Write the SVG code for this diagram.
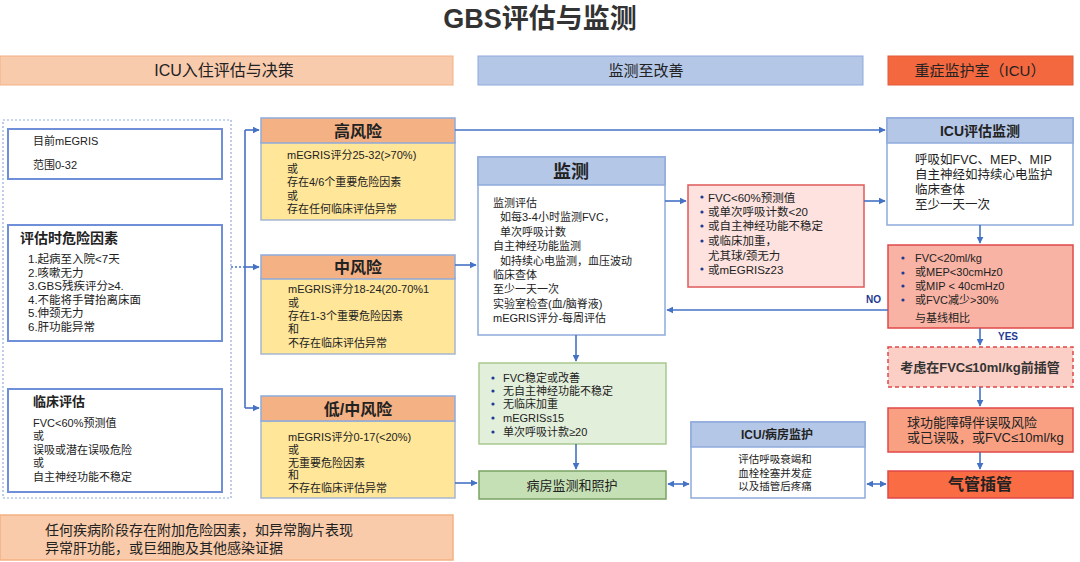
<svg xmlns="http://www.w3.org/2000/svg" width="1080" height="562" viewBox="0 0 1080 562">
<defs>
<marker id="ah" viewBox="0 0 10 10" refX="9" refY="5" markerWidth="7" markerHeight="7" orient="auto-start-reverse" markerUnits="userSpaceOnUse">
<path d="M0,0 L10,5 L0,10 z" fill="#4472c4"/>
</marker>
<style>
text{font-family:"Liberation Sans","Noto Sans CJK SC",sans-serif;fill:#222;}
.t{font-size:11px;}
.t12{font-size:12px;}
.t115{font-size:11.5px;}
.t13{font-size:13px;}
.b{font-weight:bold;}
.c{text-anchor:middle;}
.ln{stroke:#4472c4;stroke-width:1.6;fill:none;}
.wb{fill:#fff;stroke:#6f8fd8;stroke-width:2;}
.hd{fill:#f4b183;stroke:#8faadc;stroke-width:1.5;}
.yb{fill:#ffe699;stroke:#a6b6cf;stroke-width:1.5;}
.bh{fill:#b4c7e7;stroke:#8faadc;stroke-width:1.5;}
.bw{fill:#fff;stroke:#8faadc;stroke-width:1.5;}
.dot{fill:#1f3a93;}
</style>
</defs>
<rect x="0" y="0" width="1080" height="562" fill="#fff"/>
<text x="540" y="28" class="c b" style="font-size:27px;fill:#333">GBS评估与监测</text>

<g id="band-left"><rect x="0" y="56" width="453" height="29" fill="#f8cbad" stroke="#f4b183" stroke-width="1"/><text x="224" y="76" class="c" style="font-size:16px">ICU入住评估与决策</text></g>
<g id="band-mid"><rect x="478" y="56" width="385" height="29" fill="#b4c7e7" stroke="#8faadc" stroke-width="1"/><text x="646" y="76" class="c" style="font-size:15px">监测至改善</text></g>
<g id="band-right"><rect x="888" y="56" width="185" height="29" fill="#f4683f" stroke="#e05a3a" stroke-width="1"/><text x="980" y="76" class="c" style="font-size:15px">重症监护室（ICU）</text></g>

<g id="assess-area"><rect x="3" y="120" width="228" height="378" fill="none" stroke="#8faadc" stroke-width="1.2" stroke-dasharray="2,2"/></g>

<g id="megris"><rect x="8" y="129" width="214" height="50" class="wb"/>
<text x="33" y="145" class="t">目前mEGRIS</text><text x="33" y="169" class="t">范围0-32</text></g>

<g id="risk-factors"><rect x="8" y="225" width="214" height="116" class="wb"/>
<text x="20" y="243" class="b" style="font-size:14px">评估时危险因素</text>
<text x="28" y="263" class="t115">1.起病至入院&lt;7天</text>
<text x="28" y="277" class="t115">2.咳嗽无力</text>
<text x="28" y="290" class="t115">3.GBS残疾评分≥4.</text>
<text x="28" y="304" class="t115">4.不能将手臂抬离床面</text>
<text x="28" y="317" class="t115">5.伸颈无力</text>
<text x="28" y="331" class="t115">6.肝功能异常</text></g>

<g id="clinical"><rect x="8" y="389" width="214" height="103" class="wb"/>
<text x="33" y="406" class="b" style="font-size:13px">临床评估</text>
<text x="33" y="427" class="t">FVC&lt;60%预测值</text>
<text x="33" y="440" class="t">或</text>
<text x="33" y="454" class="t">误吸或潜在误吸危险</text>
<text x="33" y="467" class="t">或</text>
<text x="33" y="481" class="t">自主神经功能不稳定</text></g>

<g id="extra-risk"><rect x="0" y="515" width="453" height="45" fill="#f9cbaa" stroke="#f4b183" stroke-width="1.5"/>
<text x="45" y="535" style="font-size:14px">任何疾病阶段存在附加危险因素，如异常胸片表现</text>
<text x="45" y="553" style="font-size:14px">异常肝功能，或巨细胞及其他感染证据</text></g>

<g id="high-risk"><rect x="261" y="142" width="194" height="78" class="yb"/><rect x="261" y="118" width="194" height="25" class="hd"/>
<text x="358" y="137" class="c b" style="font-size:16px">高风险</text>
<text x="287" y="159" class="t">mEGRIS评分25-32(&gt;70%)</text>
<text x="287" y="173" class="t">或</text>
<text x="287" y="186" class="t">存在4/6个重要危险因素</text>
<text x="287" y="200" class="t">或</text>
<text x="287" y="213" class="t">存在任何临床评估异常</text></g>

<g id="mid-risk"><rect x="261" y="278" width="194" height="76" class="yb"/><rect x="261" y="255" width="194" height="24" class="hd"/>
<text x="358" y="273" class="c b" style="font-size:16px">中风险</text>
<text x="288" y="293" class="t">mEGRIS评分18-24(20-70%1</text>
<text x="288" y="307" class="t">或</text>
<text x="288" y="320" class="t">存在1-3个重要危险因素</text>
<text x="288" y="333" class="t">和</text>
<text x="288" y="347" class="t">不存在临床评估异常</text></g>

<g id="low-risk"><rect x="261" y="421" width="194" height="77" class="yb"/><rect x="261" y="396" width="194" height="25" class="hd"/>
<text x="358" y="415" class="c b" style="font-size:16px">低/中风险</text>
<text x="288" y="441" class="t">mEGRIS评分0-17(&lt;20%)</text>
<text x="288" y="454" class="t">或</text>
<text x="288" y="467" class="t">无重要危险因素</text>
<text x="288" y="479" class="t">和</text>
<text x="288" y="492" class="t">不存在临床评估异常</text></g>

<g id="monitor"><rect x="478" y="157" width="187" height="178" class="bw"/><rect x="478" y="157" width="187" height="28" class="bh"/>
<text x="571" y="178" class="c b" style="font-size:18px">监测</text>
<text x="493" y="207" class="t">监测评估</text>
<text x="500" y="221" class="t">如每3-4小时监测FVC，</text>
<text x="500" y="236" class="t">单次呼吸计数</text>
<text x="493" y="250" class="t">自主神经功能监测</text>
<text x="500" y="265" class="t">如持续心电监测，血压波动</text>
<text x="493" y="279" class="t">临床查体</text>
<text x="493" y="293" class="t">至少一天一次</text>
<text x="493" y="308" class="t">实验室检查(血/脑脊液)</text>
<text x="493" y="322" class="t">mEGRIS评分-每周评估</text></g>

<g id="improve"><rect x="479" y="363" width="187" height="81" fill="#e2efda" stroke="#a9c98f" stroke-width="1.5"/>
<circle cx="493" cy="378" r="1.6" class="dot"/><text x="503" y="382" class="t">FVC稳定或改善</text>
<circle cx="493" cy="391" r="1.6" class="dot"/><text x="503" y="395" class="t">无自主神经功能不稳定</text>
<circle cx="493" cy="404" r="1.6" class="dot"/><text x="503" y="408" class="t">无临床加重</text>
<circle cx="493" cy="418" r="1.6" class="dot"/><text x="503" y="422" class="t">mEGRISs15</text>
<circle cx="493" cy="432" r="1.6" class="dot"/><text x="503" y="436" class="t">单次呼吸计款≥20</text></g>

<g id="ward"><rect x="479" y="471" width="187" height="28" fill="#c5e0b4" stroke="#7aa363" stroke-width="1.5"/>
<text x="572" y="490" class="c t13">病房监测和照护</text></g>

<g id="worse"><rect x="688" y="185" width="176" height="102" fill="#fde2df" stroke="#e05a5a" stroke-width="1.5"/>
<circle cx="702" cy="197" r="1.6" class="dot"/><text x="708" y="202" class="t115">FVC&lt;60%预测值</text>
<circle cx="702" cy="212" r="1.6" class="dot"/><text x="708" y="216" class="t115">或单次呼吸计数&lt;20</text>
<circle cx="702" cy="226" r="1.6" class="dot"/><text x="708" y="230" class="t115">或自主神经功能不稳定</text>
<circle cx="702" cy="241" r="1.6" class="dot"/><text x="708" y="245" class="t115">或临床加重，</text>
<text x="708" y="260" class="t115">尤其球/颈无力</text>
<circle cx="702" cy="269" r="1.6" class="dot"/><text x="708" y="274" class="t115">或mEGRISz23</text></g>

<g id="icu-ward"><rect x="691" y="422" width="174" height="76" class="bw"/><rect x="691" y="422" width="174" height="25" class="bh"/>
<text x="777" y="439" class="c b t12">ICU/病房监护</text>
<text x="775" y="463" class="c" style="font-size:10.5px">评估呼吸衰竭和</text>
<text x="775" y="477" class="c" style="font-size:10.5px">血栓栓塞并发症</text>
<text x="775" y="490" class="c" style="font-size:10.5px">以及插管后疼痛</text></g>

<g id="icu-assess"><rect x="887" y="118" width="186" height="107" class="bw"/><rect x="887" y="118" width="186" height="25" class="bh"/>
<text x="980" y="136" class="c b" style="font-size:14px">ICU评估监测</text>
<text x="915" y="164" style="font-size:12.5px">呼吸如FVC、MEP、MIP</text>
<text x="915" y="179" style="font-size:12.5px">自主神经如持续心电监护</text>
<text x="915" y="194" style="font-size:12.5px">临床查体</text>
<text x="915" y="209" style="font-size:12.5px">至少一天一次</text></g>

<g id="icu-criteria"><rect x="888" y="245" width="185" height="83" fill="#f8b3a4" stroke="#e04848" stroke-width="1.5"/>
<circle cx="903" cy="258" r="1.6" class="dot"/><text x="915" y="262" class="t">FVC&lt;20ml/kg</text>
<circle cx="903" cy="273" r="1.6" class="dot"/><text x="915" y="276" class="t">或MEP&lt;30cmHz0</text>
<circle cx="903" cy="286" r="1.6" class="dot"/><text x="915" y="290" class="t">或MIP &lt; 40cmHz0</text>
<circle cx="903" cy="300" r="1.6" class="dot"/><text x="915" y="304" class="t">或FVC减少&gt;30%</text>
<text x="915" y="322" class="t">与基线相比</text></g>

<g id="consider"><rect x="888" y="347" width="185" height="40" fill="#fbcfc5" stroke="#e04848" stroke-width="1.5" stroke-dasharray="4,3"/>
<text x="980" y="372" class="c b t13" style="fill:#333">考虑在FVC≤10ml/kg前插管</text></g>

<g id="bulbar"><rect x="888" y="408" width="185" height="44" fill="#f9a083" stroke="#e04848" stroke-width="1.5"/>
<text x="907" y="427" class="t13">球功能障碍伴误吸风险</text>
<text x="907" y="442" class="t13">或已误吸，或FVC≤10ml/kg</text></g>

<g id="intubate"><rect x="888" y="471" width="185" height="27" fill="#f96c44" stroke="#e04848" stroke-width="1.5"/>
<text x="980" y="490" class="c b" style="font-size:16px">气管插管</text></g>

<g id="connectors">
<path d="M245 130 V408" class="ln"/>
<path d="M245 130 H259" class="ln" marker-end="url(#ah)"/>
<path d="M231 267 H245" stroke="#4472c4" stroke-width="1.4" stroke-dasharray="2,2" fill="none"/>
<path d="M245 267 H259" class="ln" marker-end="url(#ah)"/>
<path d="M245 408 H259" class="ln" marker-end="url(#ah)"/>
<path d="M455 130 H885" class="ln" marker-end="url(#ah)"/>
<path d="M455 265 H476" class="ln" marker-end="url(#ah)"/>
<path d="M455 483 H477" class="ln" marker-end="url(#ah)"/>
<path d="M665 201 H686" class="ln" marker-end="url(#ah)"/>
<path d="M864 201 H885" class="ln" marker-end="url(#ah)"/>
<path d="M888 310 H667" class="ln" marker-end="url(#ah)"/>
<path d="M576 335 V361" class="ln" marker-end="url(#ah)"/>
<path d="M576 444 V469" class="ln" marker-end="url(#ah)"/>
<path d="M668 484 H689" class="ln" marker-start="url(#ah)" marker-end="url(#ah)"/>
<path d="M867 484 H886" class="ln" marker-start="url(#ah)" marker-end="url(#ah)"/>
<path d="M980 225 V243" class="ln" marker-end="url(#ah)"/>
<path d="M980 328 V345" class="ln" marker-end="url(#ah)"/>
<path d="M980 387 V406" class="ln" marker-end="url(#ah)"/>
<path d="M980 452 V469" class="ln" marker-end="url(#ah)"/>
<text x="866" y="303" class="b" style="font-size:10px;fill:#1f3a93">NO</text>
<text x="998" y="340" class="b" style="font-size:10px;fill:#1f3a93">YES</text>
</g>
</svg>
